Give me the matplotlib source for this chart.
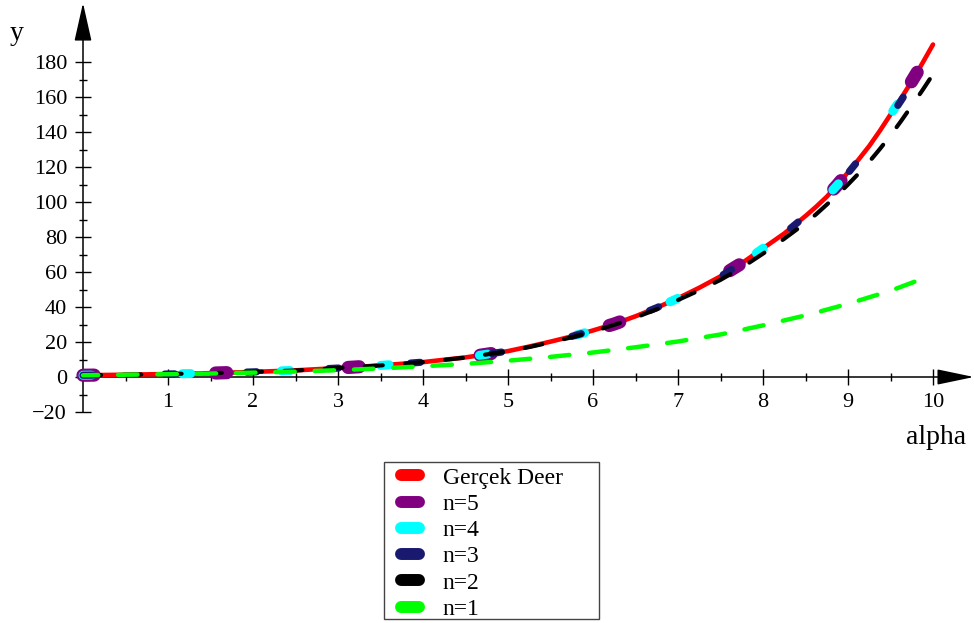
import matplotlib
matplotlib.use("Agg")
import matplotlib.pyplot as plt
from matplotlib.lines import Line2D
from matplotlib.patches import Rectangle
from matplotlib.ticker import FixedLocator

plt.rcParams['font.family'] = ['Liberation Serif', 'DejaVu Serif']
plt.rcParams['lines.scale_dashes'] = False

# ---- data ----
x_true = [0, 0.5, 1, 1.5, 2, 2.5, 3, 3.5, 4, 4.5, 5, 5.25, 5.5, 5.75, 6, 6.25, 6.5, 6.75,
          7, 7.25, 7.5, 7.75, 8, 8.25, 8.5, 8.625, 8.75, 8.875, 9, 9.125, 9.25, 9.375,
          9.5, 9.625, 9.75, 9.875, 10]
y_true = [1.0, 1.3, 1.7, 2.2, 2.9, 3.8, 5.1, 6.6, 8.5, 11.2, 14.8, 17.4, 20.2, 23.2, 26.6,
          30.3, 34.7, 39.6, 45.0, 51.0, 57.5, 65.0, 73.5, 82.0, 92.0, 97.3, 103.0, 109.7,
          117.0, 124.3, 132.0, 140.7, 150.0, 159.3, 169.0, 179.3, 190.0]
y_n5 = [1.0, 1.3, 1.7, 2.2, 2.9, 3.8, 5.1, 6.6, 8.5, 11.2, 14.8, 17.4, 20.2, 23.2, 26.6,
        30.3, 34.7, 39.6, 45.0, 51.0, 57.5, 65.0, 73.5, 82.0, 92.0, 97.3, 103.0, 109.7,
        117.0, 124.3, 132.0, 140.7, 150.0, 159.3, 169.0, 179.0, 189.5]
y_n4 = [1.0, 1.3, 1.7, 2.2, 2.9, 3.8, 5.1, 6.6, 8.5, 11.2, 14.8, 17.4, 20.2, 23.2, 26.6,
        30.3, 34.7, 39.6, 45.0, 51.0, 57.5, 65.0, 73.5, 82.0, 92.0, 97.3, 103.0, 109.7,
        117.0, 124.3, 132.0, 140.7, 150.0, 159.0, 168.5, 178.5, 188.5]
y_n3 = [1.0, 1.3, 1.7, 2.2, 2.9, 3.8, 5.1, 6.6, 8.5, 11.2, 14.8, 17.4, 20.2, 23.2, 26.6,
        30.3, 34.7, 39.6, 45.0, 51.0, 57.5, 65.0, 73.5, 82.0, 92.0, 97.3, 103.0, 109.5,
        116.5, 124.0, 131.5, 140.0, 149.0, 158.0, 167.5, 177.0, 187.0]
y_n2 = [1.0, 1.3, 1.7, 2.2, 2.9, 3.7, 5.1, 6.6, 8.5, 11.1, 14.7, 17.1, 19.8, 22.7, 26.0,
        29.8, 34.0, 38.7, 44.0, 49.5, 55.5, 62.5, 70.5, 79.0, 88.0, 93.0, 98.5, 104.0,
        110.0, 116.3, 123.0, 130.3, 138.0, 146.3, 155.0, 163.8, 173.0]
x_n1 = [0, 0.5, 1, 1.5, 2, 2.5, 3, 3.5, 4, 4.5, 5, 5.5, 6, 6.5, 7, 7.5, 8, 8.5, 9, 9.5, 9.83]
y_n1 = [1.0, 1.3, 1.6, 2.0, 2.5, 3.1, 3.9, 4.9, 6.1, 7.5, 9.3, 11.5, 14.0, 17.0, 20.3,
        24.3, 29.5, 35.2, 41.8, 49.3, 55.3]

labels = ["Gerçek Deer", "n=5", "n=4", "n=3", "n=2", "n=1"]
colors = ["#ff0000", "#800080", "#00ffff", "#191970", "#000000", "#00ff00"]

x_major = [1, 2, 3, 4, 5, 6, 7, 8, 9, 10]
y_major = [-20, 0, 20, 40, 60, 80, 100, 120, 140, 160, 180]

# ---- figure ----
W, H = 974, 623
fig = plt.figure(figsize=(W / 100, H / 100), dpi=100)
ax = fig.add_axes([0, 0, 1, 1])
ax.set_xlim(-83 / 85, 891 / 85)
ax.set_ylim((377 - 623) / 1.75, 377 / 1.75)

ax.plot(x_true, y_true, color=colors[0], lw=3.3, solid_capstyle='round',
        solid_joinstyle='round', zorder=3)
ax.plot(x_true, y_n5, color=colors[1], lw=9.5, linestyle=(0, (8, 87.5)),
        dash_capstyle='round', zorder=4)
ax.plot(x_true, y_n4, color=colors[2], lw=6.5, linestyle=(0, (6, 65.5)),
        dash_capstyle='round', zorder=5)
ax.plot(x_true, y_n3, color=colors[3], lw=5.2, linestyle=(0, (7, 52)),
        dash_capstyle='round', zorder=6)
ax.plot(x_true, y_n2, color=colors[4], lw=3.0, linestyle=(0, (13, 16)),
        dash_capstyle='round', zorder=7)
ax.plot(x_n1, y_n1, color=colors[5], lw=3.2, linestyle=(3, (14, 14.3)),
        dash_capstyle='round', zorder=8)

# ---- axes through the origin ----
for s in ['top', 'right']:
    ax.spines[s].set_visible(False)
ax.spines['left'].set_position(('data', 0))
ax.spines['bottom'].set_position(('data', 0))
ax.spines['left'].set_bounds(-20, 200)
ax.spines['bottom'].set_bounds(0, 10.3)
ax.spines['left'].set_linewidth(1.1)
ax.spines['bottom'].set_linewidth(1.1)

ax.xaxis.set_major_locator(FixedLocator(x_major))
ax.xaxis.set_minor_locator(FixedLocator([v - 0.5 for v in x_major]))
ax.yaxis.set_major_locator(FixedLocator(y_major))
ax.yaxis.set_minor_locator(FixedLocator([v + 10 for v in y_major[:-1]]))
ax.set_xticklabels([str(v) for v in x_major])
ax.set_yticklabels([str(v).replace('-', '\u2212') for v in y_major])
ax.tick_params(which='major', direction='inout', length=11, width=1.0,
               labelsize=16, pad=6)
ax.tick_params(which='minor', direction='inout', length=6, width=1.0)

# arrowheads
ax.annotate('', xy=(891 / 85 - 0.001, 0), xytext=(10.1, 0),
            arrowprops=dict(arrowstyle='-|>,head_length=1.15,head_width=0.24',
                            mutation_scale=20, color='black', lw=1.1,
                            shrinkA=0, shrinkB=0), annotation_clip=False)
ax.annotate('', xy=(0, 374 / 1.75), xytext=(0, 194),
            arrowprops=dict(arrowstyle='-|>,head_length=1.2,head_width=0.27',
                            mutation_scale=20, color='black', lw=1.1,
                            shrinkA=0, shrinkB=0), annotation_clip=False)

ax.text(17 / W, 1 - 33 / H, 'y', transform=ax.transAxes, fontsize=20,
        ha='center', va='center')
ax.text(936 / W, 1 - 438 / H, 'alpha', transform=ax.transAxes, fontsize=20,
        ha='center', va='center')

# ---- legend ----
handles = [Line2D([], [], color=c, lw=8.6, solid_capstyle='round') for c in colors]
leg = fig.legend(handles, labels, loc='upper left',
                 bbox_to_anchor=(401 / W, 1 - 467 / H), borderaxespad=0,
                 fontsize=17, frameon=False, handlelength=0.76,
                 handletextpad=1.0, labelspacing=0.2, borderpad=0)
fig.add_artist(Rectangle((384 / W, 1 - 619 / H), 215 / W, 157 / H,
                         transform=fig.transFigure, fill=False,
                         edgecolor='#444444', lw=1.0))

fig.savefig('out.png', dpi=100)
